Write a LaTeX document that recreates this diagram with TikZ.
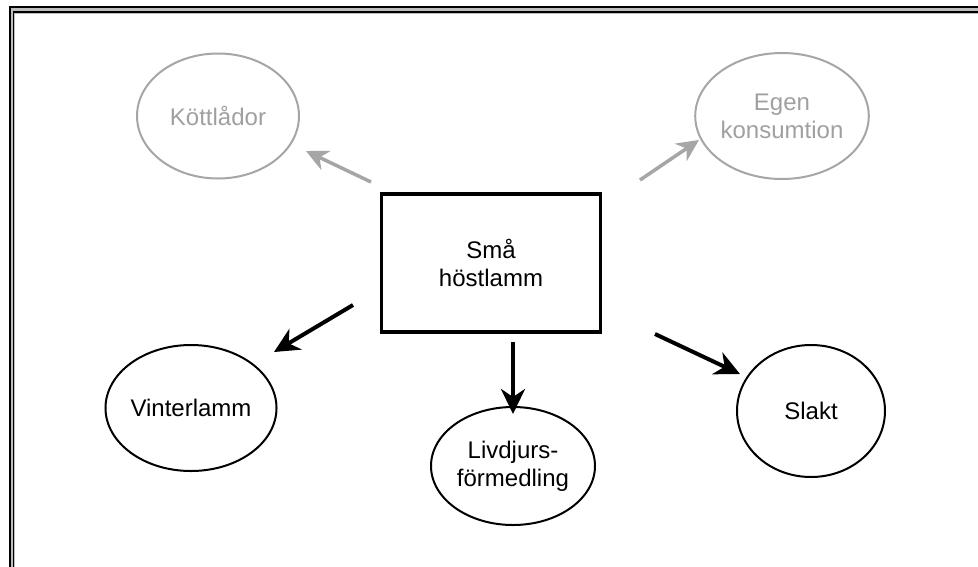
\documentclass[tikz,border=0pt]{standalone}
\usepackage{fontspec}
\setmainfont{Liberation Sans}
\usetikzlibrary{arrows.meta,shapes.geometric}
\definecolor{lgray}{HTML}{A6A6A6}
\definecolor{tgray}{HTML}{A0A0A0}
\definecolor{bandgray}{HTML}{BDBDBD}
\begin{document}
\begin{tikzpicture}[x=1pt,y=-1pt,
  txt/.style={font=\fontsize{24}{28}\selectfont, align=center},
  ell/.style={ellipse, draw=black, line width=2pt, inner sep=0pt, txt},
  gell/.style={ellipse, draw=lgray, line width=2pt, inner sep=0pt, txt, text=tgray},
  barrow/.style={line width=4pt, draw=black, -{Stealth[length=25pt,width=24pt,inset=8pt]}},
  garrow/.style={line width=3.5pt, draw=lgray, -{Stealth[length=22pt,width=21pt,inset=7pt]}}
]
\useasboundingbox (0,0) rectangle (978,566);
% frame
\fill[bandgray] (9,6) rectangle (990,14);
\fill[bandgray] (9,6) rectangle (14.5,580);
\fill[white] (14.5,14) rectangle (990,580);
\fill[black] (9,6) rectangle (990,8.2);
\fill[black] (9,6) rectangle (11.2,580);
\fill[black] (12.5,11.3) rectangle (990,13.2);
\fill[black] (12.5,11.3) rectangle (14.2,580);
% nodes
\node[draw=black, line width=3.5pt, minimum width=219pt, minimum height=138pt, txt] (c) at (491,263) {Små\\höstlamm};
\node[gell, minimum width=162pt, minimum height=125pt] (k) at (218,116) {Köttlådor};
\node[gell, minimum width=148pt, minimum height=126pt] (e) at (782,116) {Egen\\konsumtion};
\node[ell, minimum width=160pt, minimum height=126pt] (v) at (191,408) {Vinterlamm};
\node[ell, minimum width=164pt, minimum height=118pt] (l) at (513,466) {Livdjurs-\\förmedling};
\node[ell, minimum width=148pt, minimum height=132pt] (s) at (811,411) {Slakt};
% arrow endpoints
\coordinate (k1) at (371,182); \coordinate (k2) at (306,151);
\coordinate (e1) at (640,180); \coordinate (e2) at (699,140);
\coordinate (v1) at (353,305); \coordinate (v2) at (274,352);
\coordinate (s1) at (655,334); \coordinate (s2) at (740,374);
\coordinate (l1) at (513,342); \coordinate (l2) at (513,414);
\draw[garrow] (k1) -- (k2);
\draw[garrow] (e1) -- (e2);
\draw[barrow] (v1) -- (v2);
\draw[barrow] (s1) -- (s2);
\draw[barrow] (l1) -- (l2);
\end{tikzpicture}
\end{document}
